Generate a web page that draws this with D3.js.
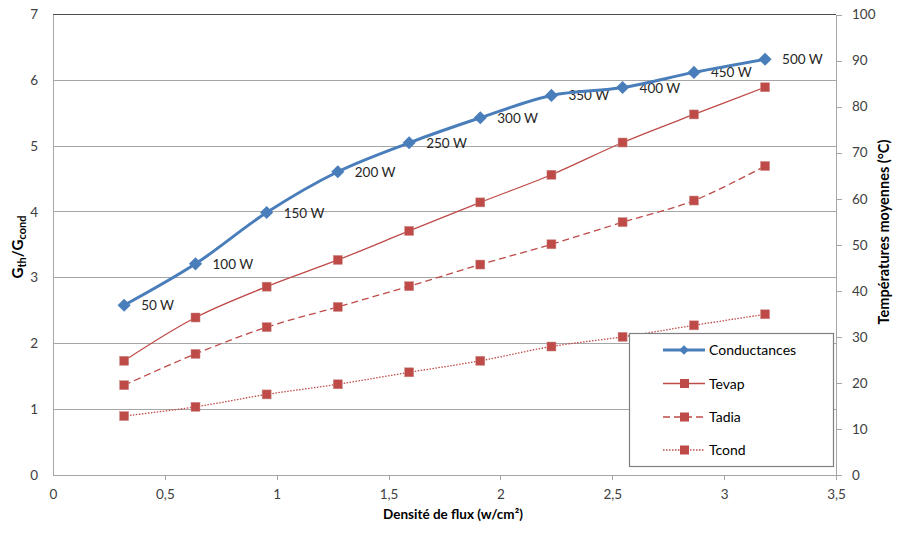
<!DOCTYPE html>
<html>
<head>
<meta charset="utf-8">
<script src="https://cdn.jsdelivr.net/npm/d3@7"></script>
<style>
  html, body { margin: 0; padding: 0; background: #fff; }
  svg { display: block; font-family: Lato, "Open Sans", sans-serif; }
</style>
</head>
<body>
<svg id="chart" width="898" height="534"></svg>
<script>
const powerLabels = ["50 W", "100 W", "150 W", "200 W", "250 W", "300 W", "350 W", "400 W", "450 W", "500 W"];
const flux = [0.318, 0.637, 0.955, 1.273, 1.592, 1.910, 2.228, 2.546, 2.865, 3.183];
const conductance = [2.58, 3.21, 3.99, 4.61, 5.05, 5.43, 5.77, 5.89, 6.12, 6.32];
const tevap = [24.8, 34.2, 40.9, 46.7, 53.0, 59.2, 65.2, 72.2, 78.3, 84.2];
const tadia = [19.5, 26.3, 32.1, 36.5, 41.0, 45.7, 50.1, 54.9, 59.6, 67.1];
const tcond = [12.8, 14.8, 17.5, 19.7, 22.3, 24.8, 27.9, 30.0, 32.5, 34.9];
const xTicks = [0, 0.5, 1, 1.5, 2, 2.5, 3, 3.5];
const yLeftTicks = [0, 1, 2, 3, 4, 5, 6, 7];
const yRightTicks = [0, 10, 20, 30, 40, 50, 60, 70, 80, 90, 100];
const seriesNames = ["Conductances", "Tevap", "Tadia", "Tcond"];

const blue = "#4A7EBB", red = "#BE4B48";
const svg = d3.select("#chart");
const L = 53, R = 836, T = 14.5, B = 475;
const x = d3.scaleLinear().domain([0, 3.5]).range([L, R]);
const yL = d3.scaleLinear().domain([0, 7]).range([B, T]);
const yR = d3.scaleLinear().domain([0, 100]).range([B, T]);
const fmt = v => String(v).replace(".", ",");

// gridlines
svg.append("g").selectAll("line").data(yLeftTicks.filter(v => v > 0 && v < 7)).join("line")
  .attr("x1", L).attr("x2", R).attr("y1", d => yL(d)).attr("y2", d => yL(d))
  .attr("stroke", "#a6a6a6").attr("stroke-width", 1).attr("shape-rendering", "crispEdges");
// top border
svg.append("line").attr("x1", L).attr("x2", R).attr("y1", yL(7)).attr("y2", yL(7))
  .attr("stroke", "#4d4d4d").attr("stroke-width", 1).attr("shape-rendering", "crispEdges");

// axes
const axisColor = "#a6a6a6", tickText = "#404040";
const gx = svg.append("g").attr("transform", `translate(0,${B})`)
  .call(d3.axisBottom(x).tickValues(xTicks).tickFormat(fmt).tickSize(5).tickSizeOuter(0));
const gl = svg.append("g").attr("transform", `translate(${L},0)`)
  .call(d3.axisLeft(yL).tickValues(yLeftTicks).tickFormat(fmt).tickSize(0).tickPadding(15));
const gr = svg.append("g").attr("transform", `translate(${R},0)`)
  .call(d3.axisRight(yR).tickValues(yRightTicks).tickSize(6).tickSizeOuter(0).tickPadding(10));
[gx, gl, gr].forEach(g => {
  g.select(".domain").attr("stroke", axisColor).attr("shape-rendering", "crispEdges");
  g.selectAll(".tick line").attr("stroke", axisColor).attr("shape-rendering", "crispEdges");
  g.selectAll(".tick text").attr("fill", tickText).attr("font-size", "13.5px").attr("font-family", "Lato, sans-serif");
});
gx.selectAll(".tick text").attr("dy", "1.15em");
gx.selectAll(".tick").filter(d => d === 0).select("line").remove();

// axis titles
svg.append("text").attr("x", 453).attr("y", 519).attr("text-anchor", "middle")
  .attr("font-weight", "bold").attr("font-size", "13.5px").attr("fill", "#000")
  .text("Densité de flux (w/cm²)");
const lt = svg.append("text").attr("transform", "translate(23,247) rotate(-90)")
  .attr("text-anchor", "middle").attr("font-weight", "bold").attr("font-size", "15px").attr("fill", "#000");
lt.append("tspan").text("G");
lt.append("tspan").attr("font-size", "11px").attr("dy", 3).text("th");
lt.append("tspan").attr("dy", -3).text("/G");
lt.append("tspan").attr("font-size", "11px").attr("dy", 3).text("cond");
svg.append("text").attr("transform", "translate(889,232) rotate(-90)")
  .attr("text-anchor", "middle").attr("font-weight", "bold").attr("font-size", "14.5px").attr("fill", "#000")
  .text("Températures moyennes (°C)");

// series
const curve = d3.curveCatmullRom.alpha(0.5);
const temps = [
  { name: "Tevap", vals: tevap, dash: null },
  { name: "Tadia", vals: tadia, dash: "7,4" },
  { name: "Tcond", vals: tcond, dash: "1.5,1.5" }
];
temps.forEach(s => {
  const pts = flux.map((f, i) => [x(f), yR(s.vals[i])]);
  svg.append("path").attr("d", d3.line().curve(curve)(pts))
    .attr("fill", "none").attr("stroke", red).attr("stroke-width", 1.3)
    .attr("stroke-dasharray", s.dash);
  svg.append("g").selectAll("rect").data(pts).join("rect")
    .attr("x", d => d[0] - 4.5).attr("y", d => d[1] - 4.5).attr("width", 9).attr("height", 9)
    .attr("fill", red).attr("stroke", "#c98a88").attr("stroke-width", 0.5);
});

// data labels
svg.append("g").selectAll("text").data(flux).join("text")
  .attr("x", (f) => x(f) + 17).attr("y", (f, i) => yL(conductance[i]) + 5)
  .attr("font-size", "13.5px").attr("fill", "#262626").text((f, i) => powerLabels[i]);

const cpts = flux.map((f, i) => [x(f), yL(conductance[i])]);
svg.append("path").attr("d", d3.line().curve(curve)(cpts))
  .attr("fill", "none").attr("stroke", blue).attr("stroke-width", 3);
const diamond = d3.symbol().type(d3.symbolDiamond2).size(110);
svg.append("g").selectAll("path").data(cpts).join("path")
  .attr("transform", d => `translate(${d[0]},${d[1]})`).attr("d", diamond).attr("fill", blue);

// legend
const lg = svg.append("g");
lg.append("rect").attr("x", 629.5).attr("y", 333.5).attr("width", 204).attr("height", 133)
  .attr("fill", "#fff").attr("stroke", "#7f7f7f").attr("stroke-width", 1.2);
const legRows = [350, 383.5, 417, 450];
seriesNames.forEach((n, i) => {
  const y = legRows[i];
  const line = lg.append("line").attr("x1", 663).attr("x2", 705).attr("y1", y).attr("y2", y);
  if (i === 0) {
    line.attr("stroke", blue).attr("stroke-width", 3);
    lg.append("path").attr("transform", `translate(684,${y})`)
      .attr("d", d3.symbol().type(d3.symbolDiamond2).size(60)).attr("fill", blue);
  } else {
    line.attr("stroke", red).attr("stroke-width", 1.3).attr("stroke-dasharray", temps[i - 1].dash);
    lg.append("rect").attr("x", 680).attr("y", y - 4.5).attr("width", 9).attr("height", 9).attr("fill", red);
  }
  lg.append("text").attr("x", 709).attr("y", y + 5).attr("font-size", "14px").attr("fill", "#000").text(n);
});
</script>
</body>
</html>
